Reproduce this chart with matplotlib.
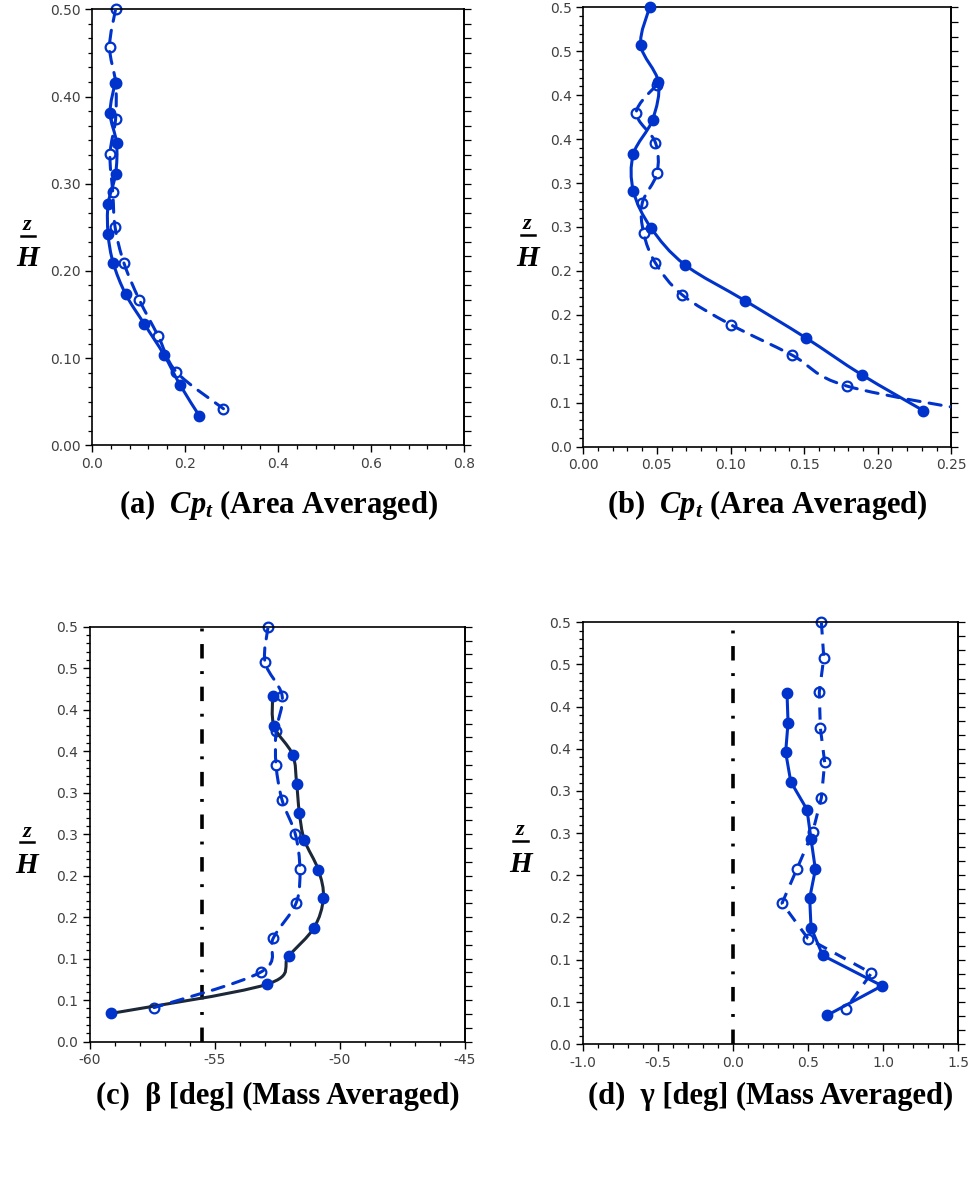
import matplotlib
matplotlib.use('Agg')
import matplotlib.pyplot as plt
import numpy as np
from matplotlib.path import Path
from matplotlib.patches import PathPatch
from matplotlib.ticker import MultipleLocator, FixedLocator, NullFormatter
from matplotlib.lines import Line2D

plt.rcParams['font.family'] = ['DejaVu Sans']
plt.rcParams['mathtext.fontset'] = 'custom'
plt.rcParams['mathtext.it'] = 'Liberation Serif:bold:italic'
plt.rcParams['mathtext.rm'] = 'Liberation Serif:bold'
plt.rcParams['mathtext.bf'] = 'Liberation Serif:bold'

# ---- data ----
# (a) Cp_t area averaged
a_cp_solid = [0.049, 0.038, 0.052, 0.050, 0.034, 0.034, 0.045, 0.072, 0.112, 0.154, 0.189, 0.230]
a_z_solid = [0.416, 0.381, 0.347, 0.311, 0.277, 0.242, 0.209, 0.173, 0.139, 0.104, 0.069, 0.034]
a_cp_open = [0.050, 0.037, 0.050, 0.050, 0.038, 0.044, 0.049, 0.068, 0.101, 0.142, 0.181, 0.282]
a_z_open = [0.500, 0.457, 0.416, 0.374, 0.334, 0.290, 0.250, 0.209, 0.167, 0.125, 0.084, 0.042]

# (b) Cp_t area averaged (zoomed)
b_cp_solid = [0.045, 0.039, 0.051, 0.047, 0.034, 0.034, 0.046, 0.069, 0.110, 0.151, 0.189, 0.231]
b_z_solid = [0.500, 0.457, 0.415, 0.372, 0.333, 0.291, 0.249, 0.207, 0.166, 0.124, 0.082, 0.041]
b_cp_open = [0.050, 0.036, 0.049, 0.050, 0.040, 0.041, 0.049, 0.067, 0.100, 0.142, 0.179, 0.284]
b_z_open = [0.412, 0.380, 0.346, 0.311, 0.277, 0.243, 0.209, 0.173, 0.139, 0.104, 0.069, 0.035]

# (c) beta mass averaged
c_beta_solid = [-52.69, -52.63, -51.89, -51.73, -51.62, -51.42, -50.86, -50.66, -51.04, -52.05, -52.93, -59.15]
c_z_solid = [0.416, 0.380, 0.346, 0.311, 0.276, 0.243, 0.207, 0.173, 0.137, 0.103, 0.069, 0.034]
c_beta_open = [-52.87, -52.99, -52.31, -52.55, -52.55, -52.31, -51.78, -51.60, -51.75, -52.66, -53.15, -57.43]
c_z_open = [0.500, 0.457, 0.417, 0.374, 0.333, 0.291, 0.250, 0.208, 0.167, 0.125, 0.084, 0.041]
c_ref = -55.5

# (d) gamma mass averaged
d_gam_solid = [0.361, 0.368, 0.352, 0.386, 0.494, 0.521, 0.550, 0.512, 0.521, 0.599, 0.994, 0.628]
d_z_solid = [0.416, 0.381, 0.346, 0.311, 0.278, 0.243, 0.207, 0.173, 0.138, 0.105, 0.069, 0.034]
d_gam_open = [0.590, 0.606, 0.576, 0.583, 0.612, 0.590, 0.532, 0.428, 0.328, 0.501, 0.923, 0.754]
d_z_open = [0.500, 0.458, 0.417, 0.375, 0.334, 0.292, 0.251, 0.208, 0.167, 0.125, 0.084, 0.042]
d_ref = 0.0

z_ticks = [0.0, 0.05, 0.1, 0.15, 0.2, 0.25, 0.3, 0.35, 0.4, 0.45, 0.5]
z_ticklabels = ['0.0', '0.1', '0.1', '0.2', '0.2', '0.3', '0.3', '0.4', '0.4', '0.5', '0.5']

titles = [r'(a)  $Cp_t$ (Area Averaged)', r'(b)  $Cp_t$ (Area Averaged)',
          '(c)  β [deg] (Mass Averaged)', '(d)  γ [deg] (Mass Averaged)']

BLUE = '#0033cc'
NAVY = '#1c2838'
TICKC = '#404040'


def smooth_path(x, y):
    # Excel-like smoothed line: cubic Bezier segments through the points
    p = np.column_stack([x, y]).astype(float)
    n = len(p)
    verts = [p[0]]
    codes = [Path.MOVETO]
    for i in range(n - 1):
        p0 = p[i - 1] if i > 0 else p[i]
        p3 = p[i + 2] if i + 2 < n else p[i + 1]
        verts += [p[i] + (p[i + 1] - p0) / 6, p[i + 1] - (p3 - p[i]) / 6, p[i + 1]]
        codes += [Path.CURVE4] * 3
    return Path(verts, codes)


def draw_series(ax, x, y, filled, color, smooth=True):
    ls = '-' if filled else (0, (4, 3))
    if smooth:
        ax.add_patch(PathPatch(smooth_path(x, y), fill=False, edgecolor=color,
                               lw=2.2, linestyle=ls, zorder=3, capstyle='round'))
    else:
        ax.plot(x, y, color=color, lw=2.2, linestyle=ls, zorder=3)
    if filled:
        ax.plot(x, y, 'o', ms=7.5, color=BLUE, mec=BLUE, zorder=4, clip_on=False)
    else:
        ax.plot(x, y, 'o', ms=7, mfc='white', mec=BLUE, mew=1.6, zorder=2, clip_on=False)


def style_axes(ax, right_step):
    for s in ax.spines.values():
        s.set_color('black')
        s.set_linewidth(1.2)
    ax.tick_params(axis='both', which='both', colors='black', labelcolor=TICKC,
                   labelsize=10, direction='out')
    ax.tick_params(axis='both', which='major', length=5, width=1.0)
    ax.tick_params(axis='both', which='minor', length=3, width=0.9)
    ax.tick_params(axis='y', which='both', right=False)
    ax.tick_params(axis='x', which='both', top=False)
    # right-hand axis carries its own, sparser ticks
    sec = ax.secondary_yaxis('right')
    sec.yaxis.set_major_locator(MultipleLocator(right_step))
    sec.yaxis.set_major_formatter(NullFormatter())
    sec.tick_params(axis='y', length=5, width=0.9, direction='out', colors='black')
    sec.spines['right'].set_linewidth(1.2)


def zlabel(fig, ax, dx):
    pos = ax.get_position()
    xc = pos.x0 + dx
    ym = pos.y0 + pos.height * 0.5
    fig.text(xc, ym - 0.002, 'z', fontsize=16, family='Liberation Serif',
             weight='bold', style='italic', ha='center', va='baseline')
    fig.add_artist(Line2D([xc - 0.007, xc + 0.008], [ym - 0.0070, ym - 0.0070],
                          color='black', lw=1.8))
    fig.text(xc, ym - 0.0330, 'H', fontsize=21, family='Liberation Serif',
             weight='bold', style='italic', ha='center', va='baseline')


fig = plt.figure(figsize=(9.74, 11.81), dpi=100)
ax_a = fig.add_axes([0.0948, 0.6229, 0.3819, 0.3692])
ax_b = fig.add_axes([0.5989, 0.6218, 0.3778, 0.3720])
ax_c = fig.add_axes([0.0921, 0.1180, 0.3853, 0.3513])
ax_d = fig.add_axes([0.5982, 0.1160, 0.3854, 0.3571])

# (a)
draw_series(ax_a, a_cp_solid, a_z_solid, True, BLUE)
draw_series(ax_a, a_cp_open, a_z_open, False, BLUE)
ax_a.set_xlim(0, 0.8)
ax_a.set_ylim(0, 0.5)
ax_a.xaxis.set_major_locator(MultipleLocator(0.2))
ax_a.xaxis.set_minor_locator(MultipleLocator(0.04))
ax_a.yaxis.set_major_locator(MultipleLocator(0.1))
ax_a.yaxis.set_minor_locator(MultipleLocator(0.1 / 6))
ax_a.xaxis.set_major_formatter(plt.FormatStrFormatter('%.1f'))
ax_a.yaxis.set_major_formatter(plt.FormatStrFormatter('%.2f'))

# (b)
draw_series(ax_b, b_cp_solid, b_z_solid, True, BLUE)
draw_series(ax_b, b_cp_open, b_z_open, False, BLUE)
ax_b.set_xlim(0, 0.25)
ax_b.xaxis.set_major_locator(MultipleLocator(0.05))
ax_b.xaxis.set_minor_locator(MultipleLocator(0.01))
ax_b.xaxis.set_major_formatter(plt.FormatStrFormatter('%.2f'))

# (c)
draw_series(ax_c, c_beta_solid, c_z_solid, True, NAVY)
draw_series(ax_c, c_beta_open, c_z_open, False, BLUE)
ax_c.axvline(c_ref, color='black', lw=2.6, linestyle=(0, (4, 3.5, 0.8, 3.5)), zorder=1)
ax_c.set_xlim(-60, -45)
ax_c.xaxis.set_major_locator(MultipleLocator(5))
ax_c.xaxis.set_minor_locator(MultipleLocator(1))
ax_c.xaxis.set_major_formatter(plt.FormatStrFormatter('%d'))

# (d)
draw_series(ax_d, d_gam_solid, d_z_solid, True, BLUE, smooth=False)
draw_series(ax_d, d_gam_open, d_z_open, False, BLUE, smooth=False)
ax_d.axvline(d_ref, color='black', lw=2.6, linestyle=(0, (4, 3.5, 0.8, 3.5)), zorder=1)
ax_d.set_xlim(-1.0, 1.5)
ax_d.xaxis.set_major_locator(MultipleLocator(0.5))
ax_d.xaxis.set_minor_locator(MultipleLocator(0.1))
ax_d.xaxis.set_major_formatter(plt.FormatStrFormatter('%.1f'))

for ax in (ax_b, ax_c, ax_d):
    ax.set_ylim(0, 0.5)
    ax.yaxis.set_major_locator(FixedLocator(z_ticks))
    ax.set_yticklabels(z_ticklabels)
    ax.yaxis.set_minor_locator(MultipleLocator(0.01))

label_dx = [-0.0667, -0.0575, -0.0647, -0.064]
title_y = [0.5724, 0.5724, 0.072, 0.072]
right_steps = [0.1 / 6, 0.5 / 30, 0.5 / 30, 0.5 / 30]
for ax, t, dx, ty, rs in zip((ax_a, ax_b, ax_c, ax_d), titles, label_dx, title_y, right_steps):
    style_axes(ax, rs)
    zlabel(fig, ax, dx)
    pos = ax.get_position()
    fig.text(pos.x0 + pos.width * 0.5, ty, t, fontsize=22,
             family='Liberation Serif', weight='bold', ha='center', va='center')

fig.savefig('out.png', dpi=100)
